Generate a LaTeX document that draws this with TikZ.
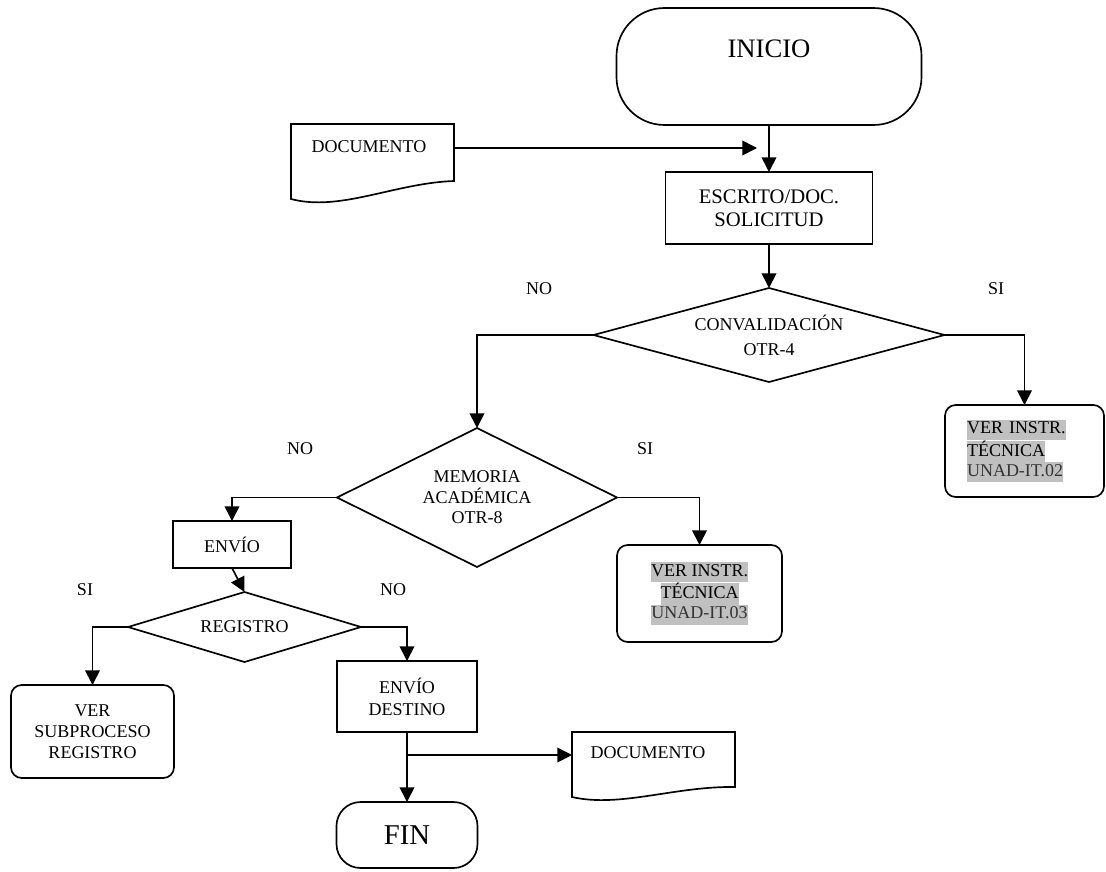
\documentclass[tikz,border=0pt]{standalone}
\usepackage{fontspec}
\setmainfont{Liberation Serif}
\usetikzlibrary{shapes.geometric,arrows.meta}
\definecolor{hlgray}{RGB}{192,192,192}
% highlighted line: grey band as tall as one line
\newcommand\hlt[1]{{\setlength{\fboxsep}{0pt}\colorbox{hlgray}{\strut#1}}}
\begin{document}
\begin{tikzpicture}[x=0.75pt,y=-0.75pt,line width=1.25pt,
  lbl/.style={font=\fontsize{13.5}{15.5}\selectfont,inner sep=0pt},
  procbox/.style={draw,rectangle,outer sep=0pt,inner sep=0pt,align=center,
    font=\fontsize{13.5}{16.5}\selectfont},
  refbox/.style={draw,rectangle,rounded corners=8pt,outer sep=0pt,inner sep=0pt,
    align=center,font=\fontsize{13.5}{15}\selectfont},
  decision/.style={draw,diamond,outer sep=0pt,inner sep=0pt,align=center,
    font=\fontsize{13.5}{15.4}\selectfont},
  terminal/.style={draw,rectangle,outer sep=0pt,inner sep=0pt},
  arr/.style={-{Triangle[length=11pt,width=11pt]}},
]
\useasboundingbox (0,0) rectangle (1106,871);

% ---- start terminal
\node[terminal,rounded corners=36pt,minimum width=228.75pt,minimum height=87.75pt]
  (inicio) at (769,66.5) {};
\node[inner sep=0pt,font=\fontsize{20}{24}\selectfont] (iniciot) at (769,48.5) {INICIO};

% ---- incoming document
\draw (291,124) -- (454,124) -- (454,181)
  .. controls (395,183) and (340,212) .. (291,199) -- cycle;
\node[lbl] (doc1) at (369,146.5) {DOCUMENTO};
\coordinate (doc1r) at (454,148);
\coordinate (docin) at (757,148);

% ---- request
\node[procbox,minimum width=155.25pt,minimum height=54pt,
  font=\fontsize{15.5}{17.25}\selectfont] (escrito) at (769,208)
  {ESCRITO/DOC.\\SOLICITUD};

% ---- first decision
\node[decision,shape aspect=3.73,minimum width=263.25pt,minimum height=70.5pt,
  font=\fontsize{13.5}{18.75}\selectfont] (conv) at (769,335)
  {CONVALIDACI\'ON\\OTR-4};
\node[lbl] (no1) at (539,289) {NO};
\node[lbl] (si1) at (996,289) {SI};

\node[refbox,minimum width=119.25pt,minimum height=69pt,align=left,
  text width=86.25pt,inner xsep=16.5pt] (ver1) at (1024.5,451)
  {\hlt{VER INSTR.}\\\hlt{T\'ECNICA}\\\hlt{\textcolor{black!80}{UNAD-IT.02}}};

% ---- second decision
\node[decision,shape aspect=2.01,minimum width=210pt,minimum height=104.25pt]
  (mem) at (477,497.5) {MEMORIA\\ACAD\'EMICA\\OTR-8};
\node[lbl] (no2) at (300,449) {NO};
\node[lbl] (si2) at (645,449) {SI};

\node[refbox,minimum width=123.75pt,minimum height=72.75pt] (ver2) at (699.5,593.5)
  {\hlt{VER INSTR.}\\\hlt{T\'ECNICA}\\\hlt{\textcolor{black!80}{UNAD-IT.03}}};

\node[procbox,minimum width=88.5pt,minimum height=35.25pt] (envio) at (232,544.5)
  {ENV\'IO};

% ---- third decision
\node[decision,shape aspect=3.33,minimum width=174.75pt,minimum height=52.5pt]
  (reg) at (244.5,627) {REGISTRO};
\node[lbl] (si3) at (85,590) {SI};
\node[lbl] (no3) at (393,590) {NO};

\node[refbox,minimum width=122.25pt,minimum height=69.75pt,
  font=\fontsize{13.5}{15.75}\selectfont] (sub) at (92.5,731.5)
  {VER\\SUBPROCESO\\REGISTRO};

\node[procbox,minimum width=105pt,minimum height=53.25pt] (destino) at (407,696.5)
  {ENV\'IO\\DESTINO};

% ---- end terminal
\node[terminal,rounded corners=18pt,minimum width=105.75pt,minimum height=49.5pt,
  font=\fontsize{21.5}{25}\selectfont] (fin) at (407,835) {FIN};

% ---- outgoing document
\draw (572,732) -- (735,732) -- (735,787)
  .. controls (675,786) and (620,808) .. (572,797) -- cycle;
\node[lbl] (doc2) at (648,753) {DOCUMENTO};
\coordinate (doc2l) at (572,755);
\coordinate (split) at (407,755);

% ---- connectors
\draw[arr] (inicio.south) -- (escrito.north);
\draw[arr] (doc1r) -- (docin);
\draw[arr] (escrito.south) -- (conv.north);
\draw[arr] (conv.west) -| (mem.north);
\draw[arr] (conv.east) -| (ver1.north);
\draw[arr] (mem.west) -| (envio.north);
\draw[arr] (mem.east) -| (ver2.north);
\draw[arr] (envio.south) -- (reg.north);
\draw[arr] (reg.west) -| (sub.north);
\draw[arr] (reg.east) -| (destino.north);
\draw[arr] (destino.south) -- (fin.north);
\draw[arr] (split) -- (doc2l);
\end{tikzpicture}
\end{document}
